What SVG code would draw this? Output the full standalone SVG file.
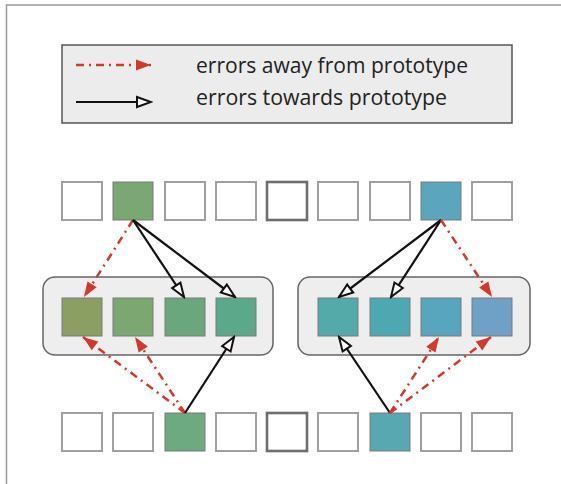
<svg xmlns="http://www.w3.org/2000/svg" width="561" height="484" viewBox="0 0 561 484">
  <defs>
    <style>
      .frame { fill: none; stroke: #9a9a9a; stroke-width: 1.5; }
      .legend { fill: #ececec; stroke: #555; stroke-width: 1.5; }
      .label { font-family: "Open Sans", Lato, sans-serif; font-size: 21px; fill: #222; }
      .group { fill: #eeeeee; stroke: #666; stroke-width: 1.5; }
      .cell { fill: #ffffff; stroke: #a0a0a0; stroke-width: 2; }
      .cell-mid { fill: #ffffff; stroke: #6e6e6e; stroke-width: 2.6; }
      .filled { stroke: #7a7a7a; stroke-width: 1; }
      .away { fill: none; stroke: #d0392b; stroke-width: 2.5; stroke-dasharray: 8 5 2 5; marker-end: url(#head-away); }
      .toward { fill: none; stroke: #111; stroke-width: 2.2; marker-end: url(#head-toward); }
    </style>
    <marker id="head-away" markerUnits="userSpaceOnUse" markerWidth="17" markerHeight="13" refX="16" refY="6.5" orient="auto">
      <path d="M1,1 L16,6.5 L1,12 Z" fill="#d0392b"/>
    </marker>
    <marker id="head-toward" markerUnits="userSpaceOnUse" markerWidth="18" markerHeight="14" refX="16" refY="7" orient="auto">
      <path d="M2,2 L16,7 L2,12 Z" fill="#ffffff" stroke="#111" stroke-width="2"/>
    </marker>
  </defs>

  <!-- outer frame (left and top edges) -->
  <path class="frame" d="M6.5,484 L6.5,5 L561,5"/>

  <!-- legend -->
  <g id="legend">
    <rect class="legend" x="62" y="45" width="450" height="78"/>
    <line class="away" x1="76" y1="65" x2="151" y2="65"/>
    <line class="toward" x1="76" y1="102" x2="151" y2="102"/>
    <text class="label" x="196" y="73" textLength="272" lengthAdjust="spacingAndGlyphs">errors away from prototype</text>
    <text class="label" x="196" y="105" textLength="251" lengthAdjust="spacingAndGlyphs">errors towards prototype</text>
  </g>

  <!-- group containers -->
  <g id="group-left"><rect class="group" x="43" y="277" width="230" height="78" rx="12"/></g>
  <g id="group-right"><rect class="group" x="298" y="277" width="232" height="78" rx="12"/></g>

  <!-- top row -->
  <g id="top-0"><rect class="cell" x="62" y="182" width="40" height="38"/></g>
  <g id="top-1"><rect class="filled" x="113" y="182" width="40" height="38" fill="#79a873"/></g>
  <g id="top-2"><rect class="cell" x="165" y="182" width="40" height="38"/></g>
  <g id="top-3"><rect class="cell" x="216" y="182" width="40" height="38"/></g>
  <g id="top-4"><rect class="cell-mid" x="267" y="182" width="40" height="38"/></g>
  <g id="top-5"><rect class="cell" x="318" y="182" width="40" height="38"/></g>
  <g id="top-6"><rect class="cell" x="370" y="182" width="40" height="38"/></g>
  <g id="top-7"><rect class="filled" x="421" y="182" width="40" height="38" fill="#5ba6bd"/></g>
  <g id="top-8"><rect class="cell" x="472" y="182" width="40" height="38"/></g>

  <!-- middle row (inside groups) -->
  <g id="mid-0"><rect class="filled" x="62" y="298" width="40" height="38" fill="#8b9f63"/></g>
  <g id="mid-1"><rect class="filled" x="113" y="298" width="40" height="38" fill="#7aa870"/></g>
  <g id="mid-2"><rect class="filled" x="165" y="298" width="40" height="38" fill="#6aa77c"/></g>
  <g id="mid-3"><rect class="filled" x="216" y="298" width="40" height="38" fill="#5ba98a"/></g>
  <g id="mid-5"><rect class="filled" x="318" y="298" width="40" height="38" fill="#53aaa8"/></g>
  <g id="mid-6"><rect class="filled" x="370" y="298" width="40" height="38" fill="#4ea8b2"/></g>
  <g id="mid-7"><rect class="filled" x="421" y="298" width="40" height="38" fill="#57a6bd"/></g>
  <g id="mid-8"><rect class="filled" x="472" y="298" width="40" height="38" fill="#6fa1c6"/></g>

  <!-- bottom row -->
  <g id="bot-0"><rect class="cell" x="62" y="413" width="40" height="38"/></g>
  <g id="bot-1"><rect class="cell" x="113" y="413" width="40" height="38"/></g>
  <g id="bot-2"><rect class="filled" x="165" y="413" width="40" height="38" fill="#6daa7f"/></g>
  <g id="bot-3"><rect class="cell" x="216" y="413" width="40" height="38"/></g>
  <g id="bot-4"><rect class="cell-mid" x="267" y="413" width="40" height="38"/></g>
  <g id="bot-5"><rect class="cell" x="318" y="413" width="40" height="38"/></g>
  <g id="bot-6"><rect class="filled" x="370" y="413" width="40" height="38" fill="#57a8b1"/></g>
  <g id="bot-7"><rect class="cell" x="421" y="413" width="40" height="38"/></g>
  <g id="bot-8"><rect class="cell" x="472" y="413" width="40" height="38"/></g>

  <!-- connectors -->
  <g id="connectors">
    <line class="away" x1="133" y1="220" x2="84" y2="297"/>
    <line class="toward" x1="133" y1="220" x2="184" y2="297"/>
    <line class="toward" x1="133" y1="220" x2="235" y2="297"/>

    <line class="away" x1="185" y1="413" x2="83" y2="337"/>
    <line class="away" x1="185" y1="413" x2="135" y2="337"/>
    <line class="toward" x1="185" y1="413" x2="234" y2="337"/>

    <line class="toward" x1="441" y1="220" x2="339" y2="297"/>
    <line class="toward" x1="441" y1="220" x2="391" y2="297"/>
    <line class="away" x1="441" y1="220" x2="492" y2="297"/>

    <line class="toward" x1="390" y1="413" x2="339" y2="337"/>
    <line class="away" x1="390" y1="413" x2="439" y2="337"/>
    <line class="away" x1="390" y1="413" x2="491" y2="337"/>
  </g>
</svg>
